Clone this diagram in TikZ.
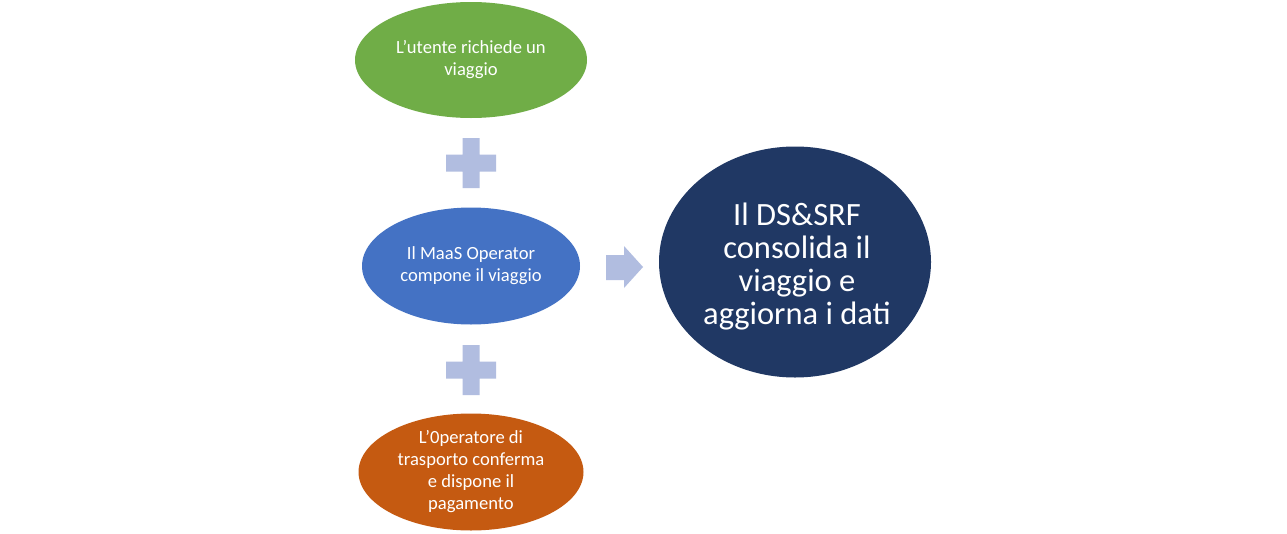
\documentclass[tikz,border=0pt]{standalone}
\usepackage{fontspec}
\setmainfont{Carlito}
\usetikzlibrary{shapes.geometric}
\definecolor{cgreen}{HTML}{70AD47}
\definecolor{cblue}{HTML}{4472C4}
\definecolor{corange}{HTML}{C55A11}
\definecolor{cnavy}{HTML}{203864}
\definecolor{clight}{HTML}{B1BDE0}
\tikzset{
  oval/.style={ellipse, inner sep=0pt, text=white, align=center, font=\fontsize{18.6}{22}\selectfont},
  plusshape/.style={fill=clight, draw=none},
}
\begin{document}
\begin{tikzpicture}[x=1pt,y=-1pt]
\useasboundingbox[fill=white] (0,0) rectangle (1287,533);
\node[oval, fill=cgreen, minimum width=232pt, minimum height=116pt] (user) at (471,60) {L’utente richiede un\\viaggio};
\node[oval, fill=cblue, minimum width=218pt, minimum height=117pt] (maas) at (471,266) {Il MaaS Operator\\compone il viaggio};
\node[oval, fill=corange, minimum width=225pt, minimum height=117pt] (op) at (471,472) {L’0peratore di\\trasporto conferma\\e dispone il\\pagamento};
\node[oval, fill=cnavy, minimum width=272pt, minimum height=231pt] (ds) at (795,262) {};
\node[text=white, align=center, inner sep=0pt, font=\fontsize{32.5}{33}\selectfont] (dstext) at (797,267) {Il DS\&SRF\\consolida il\\viaggio e\\aggiorna i dati};
% plus signs
\foreach \cy in {163,370}{
  \fill[plusshape] (462.5,\cy-25) -- (479.5,\cy-25) -- (479.5,\cy-8.5) -- (496,\cy-8.5) -- (496,\cy+8.5) -- (479.5,\cy+8.5) -- (479.5,\cy+25) -- (462.5,\cy+25) -- (462.5,\cy+8.5) -- (446,\cy+8.5) -- (446,\cy-8.5) -- (462.5,\cy-8.5) -- cycle;
}
% arrow
\fill[plusshape] (606,255) -- (624,255) -- (624,246) -- (643,267) -- (624,288) -- (624,280) -- (606,280) -- cycle;
\end{tikzpicture}
\end{document}
